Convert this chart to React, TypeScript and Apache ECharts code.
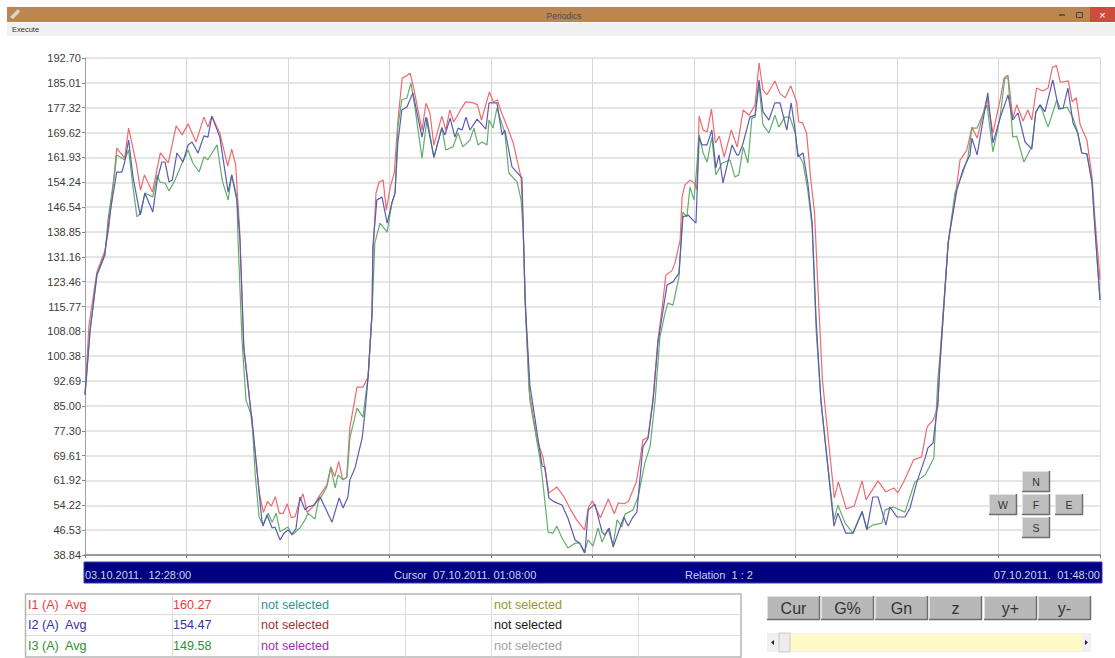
import React, { useEffect, useRef } from "react";
import * as echarts from "echarts";

const FONT = "'Liberation Sans', Arial, sans-serif";

const yTickLabels = ["38.84","46.53","54.22","61.92","69.61","77.30","85.00","92.69","100.38","108.08","115.77","123.46","131.16","138.85","146.54","154.24","161.93","169.62","177.32","185.01","192.70"];
const yMin = 38.84;
const yMax = 192.7;
const sampleCount = 256;
const xDivisions = 10;

const i1Samples = [0,1,3,5,6,7,8,10,11,13,14,15,17,19,21,23,24.5,26,28,30,31,32,34,36,37,38,39,40,41,42,43,44,45,46,47,48,49,50,51,52,53,54,55,56,57.5,59,61,62,63,64,65,66,
  66.8,68.6,70.1,71.4,72.4,72.6,73.4,74.2,75.2,
  76,77,78,79,80,81,82,83,85,86,87,88,90,91,92,93,95,96,98,99,100,102,103,104,105,107,108,110,110.5,111,112,114,115.5,117,119,121,122.5,124,126,127,128,130,132,133.5,134.5,136,137,139,140,
  140.7,141.5,142,143.3,144.5,145.5,146.5,148,148.8,150.1,150.6,151.3,152.6,
  153.6,154.3,154.9,155.9,156.9,158,159,160,161.2,163,164.5,166,167.5,169,170,171,172,174,175.3,176.6,178,179.5,180,181,182,183,184,185,186,187,187.5,189,190,192,194,196,197,200,202,204,205,206.5,
  209,211,212.4,213.9,215.1,215.6,217.7,219.4,
  220.7,222.4,223.7,225,227.5,229,230.8,231.8,232.8,234,235,236.6,237.8,238.8,240,241.6,242.9,244,245,246,248,249,250,251,252.7,254,254.7,256];
const i1Values = [88.4,110,126.4,133,140,152,164.8,161.7,171,159.6,151.8,156.5,151.2,163.3,160.2,171.7,168.9,172.3,166.7,174.4,171.3,174.7,169.5,159.2,164.5,159.6,139.5,103.8,93,80.6,69.8,57.9,52,55.4,54,56.9,51.7,51.7,54.7,50.4,50.7,55,57.8,52,53.8,56.9,60.6,66.2,63.1,67.8,62.2,62.9,
  78.2,90.8,90.8,93.9,113.8,131,150.9,154.3,154.9,
  145.6,152.8,157.1,174.4,186.5,187.1,188,182.8,170.4,178.7,175.6,165.7,174.7,170.4,176.6,172.9,177.2,179.1,178.8,178.2,173.5,182.2,179.1,179.7,176,169.8,166.4,155.5,141.6,117.8,89.9,74.5,69.2,58,59.9,56.5,52.8,49.7,46.6,53.7,55.6,50.4,56.2,51.6,55,54.7,55.3,61.2,68.3,
  74.4,75,75,87.8,105.4,114.7,125.5,126.8,129.2,136.3,149.7,153.4,154.9,
  154.1,152,174.7,170.4,169.8,176.9,166.4,168.5,162,170.4,165.1,176.6,175,178.2,191.2,182.8,181.3,185.6,181.6,180.4,184.1,179.1,172.9,172.6,169.5,155.8,144.7,117.8,93,80.6,74.5,56.5,61.5,53.1,54,61.8,55.9,61.8,58.4,59.6,58.1,61.5,
  68.3,69.2,78.5,80.6,84.7,97,135.4,148.7,
  161.1,164.2,171.3,167.9,180.3,169.5,179.7,186.5,187.4,174.1,178.2,173.2,176.6,173.5,183.4,182.5,183.4,189.8,190.4,185.2,185.6,179.1,180.4,172,167.3,155.8,143.4,124];

const i2Samples = [0,1.3,3,5,6.3,8,9.3,10,11,12.1,13.9,15.1,17.1,18.2,19.4,20.2,21.2,22,23.2,24.7,26,27,28.5,30,31,32,34,36.1,37,38.3,39.1,40.1,41.1,42.4,43.6,44.6,44.9,45.9,47.2,47.9,49.2,50.2,51.2,52.2,53.2,54.2,55.5,56.2,57.8,59.3,62.3,64.1,65.1,66.3,66.8,68.1,
  69.9,70.6,71.4,72.4,72.6,73.6,74.9,76.2,
  77.4,78.2,78.9,79.9,81.2,82.7,85,86,88,90,90.8,92.1,93.3,94.1,95.1,96.1,97.1,98.9,101.1,101.9,103.9,105.2,105.9,107.7,110.2,110.5,111,112.2,114.8,115.3,116,117,118.5,120.3,121.8,123.6,124.8,126.1,126.9,128.6,130.4,131.1,132.2,133.2,135.9,137,138.2,139.2,
  140.7,142,143.3,144.5,145.8,146.8,148.3,149.8,150.8,152.1,154.1,
  154.9,155.6,156.9,158.1,159.1,159.9,160.9,163.2,164.4,164.9,166,167.7,169,170,171,172.5,174,175.3,177,178.1,179.1,179.8,181.1,182.3,183.4,184.4,185.6,187.1,188.9,189.9,191.9,193.7,196,197.2,198.7,200,202,203,204.8,206.8,208.1,209.8,
  211.9,212.6,213.9,215.1,215.6,217.7,218.2,
  219.9,221.4,223.2,223.7,225,226.2,227.7,229,230.8,232.8,234,235.3,237.1,238.8,239.8,240.9,242.1,244.1,245.6,246.7,247.9,249.2,250.4,251.4,252.7,254,254.7,256];
const i2Values = [88.4,108.5,125.5,132,144.7,157.4,157.4,160.5,167.3,155.9,144.1,150.9,145,154.9,160.5,160.5,154.3,154.9,163.3,160.5,165.8,166.7,163.3,168.6,168.2,174.7,168.2,151.2,156.5,148.7,136.3,102.3,91.5,77.5,62,49.7,47.8,51.2,47.2,47.5,43.5,45.6,46.6,45.3,46.9,56.8,52.8,53.7,54.3,56.8,49,56.5,53.4,56.8,62.1,65.8,
  75,82.8,93.9,113.8,134.2,148.7,149.7,141.6,
  147.8,150.9,166.4,176.6,177.5,181.9,168.2,174.4,162.1,171,168.9,174.1,168.2,171,170.4,174.4,170.4,173.8,170.7,178.8,178.8,168.9,170.4,159,155.6,141.6,117.8,91.5,70.4,66.4,66.1,56.5,55.2,54.3,50.3,43.5,42.5,39.5,52.8,54.6,46,45,47.2,41.3,50.6,47.8,50.6,52.1,
  72.3,75,86.8,104.5,114.7,122.4,123.4,126.1,143.5,144.1,141.6,
  168.2,165.8,165.8,170.4,158.7,162.7,154,165.8,162.7,162.7,166.4,174.4,175,185.9,176,173.5,178.8,178.8,170.4,178.8,170.4,162.1,163.3,154,141.6,111.6,86.8,69.2,47.8,51.8,45.6,45.6,52.4,46.6,56.8,56.8,48.1,53.7,50.6,50.6,53.4,61.4,
  68.9,72,73.5,85.9,97.6,135.4,139.5,
  151.8,158,162.7,167.9,162.7,171.3,181.9,166.4,174.1,181.3,173.5,175.7,166.7,164.5,176,178.2,176,185.9,176.9,177.2,183.4,172.6,169.5,163.3,163,154,140.4,117.8];

const i3Samples = [0,1.3,3,5,5.8,7.6,8,10,11,12.1,13.1,14.1,15.1,17.1,18.2,18.9,20.2,21.2,22.7,24.5,26,27.2,28.8,30,31,33.3,34.6,36.1,37,38.3,38.6,39.6,40.6,42.1,42.9,43.9,44.9,46.2,47.2,48.2,49.2,49.9,51.2,52.2,54.2,55.5,56.2,58,58.8,61,62,63.1,63.8,65.1,66.1,
  66.8,68.6,70.1,71.4,72.4,73.1,74.4,76.2,
  77.4,78.2,78.9,79.9,81.2,82.2,83.2,85,86.3,88,90,91,92.8,94.1,95.3,97.1,98.1,99.1,100.1,101.4,101.9,102.9,103.9,105.9,106.9,109,110,110.5,111.2,112.2,114.8,115.5,116.8,118,119,120.3,121.8,123.6,124.8,125.9,126.9,128.1,129.4,130.4,131.9,133.2,134.2,135.4,136.2,138.2,139.5,141.2,
  142.5,143.8,145,146.3,147,148.3,149.8,150.8,151.8,152.6,
  153.6,154.3,154.9,155.9,156.9,158.1,159.1,160.7,162.7,163.9,164.9,166,167.2,168.2,169,170,171,172.5,174,175,176.5,177.8,179.1,179.8,181.1,182.3,183.4,184.4,185.6,187.1,188.9,189.9,191.7,193.7,196,197.2,198.7,201,201.8,203.8,206.8,209.3,211.9,
  214.1,215.1,215.6,217.7,
  219.4,221.4,222.7,223.7,225,227.5,229,230.8,232,232.8,234,235,236.8,238.8,239.8,240.9,242.9,245.1,246,247.7,249.2,250.2,251.4,252.7,254,254.7,256];
const i3Values = [88.4,108.5,125.5,131.4,142.6,158,162.7,161.2,164.2,152.8,143.5,144.7,150.9,149.7,156.5,154.3,154,151.5,154.9,160.2,164.2,160.2,157.4,162.1,161.2,165.8,154.9,148.7,156.5,149.7,136.3,105.4,86.8,81.6,64.2,50.6,48.1,51.8,49,51.8,46,46.6,47.5,45,47.2,49.7,51.8,50,55.2,59.9,65.8,59.6,63.6,62.1,63,
  75,84.3,81.5,93.9,113.8,135.4,141.6,138.8,
  147.8,150.9,171.3,179.7,180.3,185,177.5,161.7,174.1,161.7,171.3,164.2,165.2,169.5,165.2,167.3,171,165.8,166.7,165.8,173.5,171,177.2,169.5,157.1,154.3,148.7,139.5,111.6,86.8,68.2,61.1,45.9,45.6,47.8,44.1,41,42.5,42.5,39.5,43.5,41.6,47.2,42.9,46.9,41.9,49.7,47.5,51.5,52.8,56.8,67.3,
  72.3,86.8,106.3,113.8,116.8,116.2,124.9,145,143.5,152.8,
  148.7,159,168.9,163.3,160.5,168.2,156.5,160.2,161.1,155.9,156.5,165.2,160.2,174.1,174.4,184.3,172,169.5,175,171.3,174.4,174.4,169.5,163.3,160.2,151.8,140.4,108.5,86.8,69.2,49.7,54.3,48.7,45.6,52.1,46.9,48.1,48.7,52.8,53.7,52.1,61.4,63.6,
  68.9,93,100,135.4,
  150.9,157.1,162.1,171,171,178.2,163.6,174.4,186.5,186.5,168.2,168.5,160.5,165.2,175.7,178.2,171.3,179.7,176.9,177.5,174.1,170.4,163.3,163,154,140.4,117.8];

const legendNames = ["I1 (A)  Avg", "I2 (A)  Avg", "I3 (A)  Avg"];
const legendValues = ["160.27", "154.47", "149.58"];
const seriesColors = ["#ee6a70", "#5c5cae", "#62ae6c"];
const legendColors = ["#e83c3c", "#34349a", "#2f8f2f"];
const unselectedA = ["#2e9494", "#a53030", "#a030a8"];
const unselectedB = ["#98982e", "#151515", "#a2a2a2"];
const buttonLabels = ["Cur", "G%", "Gn", "z", "y+", "y-"];
const startLabel = "03.10.2011.  12:28:00";
const cursorLabel = "Cursor  07.10.2011. 01:08:00";
const relationLabel = "Relation  1 : 2";
const endLabel = "07.10.2011.  01:48:00";

const zip = (xs: number[], ys: number[]) => xs.map((x, i) => [x, ys[i]]);

function txt(x: number, y: number, text: string, fill: string, fontSize: number, align = "left") {
  return {
    type: "text", x, y, z: 10, silent: true,
    style: { text, fill, font: `${fontSize}px ${FONT}`, textAlign: align, textVerticalAlign: "middle" },
  };
}
function box(x: number, y: number, w: number, h: number, fill: string, stroke?: string, lw = 1) {
  return { type: "rect", z: 5, silent: true, shape: { x, y, width: w, height: h }, style: { fill, stroke: stroke ?? "none", lineWidth: lw } };
}
function seg(x1: number, y1: number, x2: number, y2: number, stroke: string, lw = 1) {
  return { type: "line", z: 6, silent: true, shape: { x1, y1, x2, y2 }, style: { stroke, lineWidth: lw } };
}
function raised(x: number, y: number, w: number, h: number, label: string, fs: number, fill = "#b8b8b8") {
  return [
    box(x, y, w, h, fill),
    seg(x, y + 0.5, x + w, y + 0.5, "#e2e2e2"),
    seg(x + 0.5, y, x + 0.5, y + h, "#e2e2e2"),
    seg(x, y + h - 0.5, x + w, y + h - 0.5, "#6e6e6e", 1.5),
    seg(x + w - 0.5, y, x + w - 0.5, y + h, "#6e6e6e", 1.5),
    txt(x + w / 2, y + h / 2, label, "#333", fs, "center"),
  ];
}

function buildChrome() {
  const out: any[] = [
    box(7, 7, 1108, 15, "#bb8650"),
    box(7, 23, 1108, 13, "#f0f0f0"),
    txt(564, 15.5, "Periodics", "#4a4a4a", 8.5, "center"),
    txt(12, 29, "Execute", "#333", 7.5),
    seg(1059, 15, 1065, 15, "#444", 1.5),
    { type: "rect", z: 6, silent: true, shape: { x: 1076.5, y: 12.5, width: 6, height: 5 }, style: { fill: "none", stroke: "#444" } },
    box(1090, 7, 25, 15, "#cf4b3d"),
    txt(1102.5, 14.5, "×", "#fff", 11, "center"),
    { type: "polygon", z: 6, silent: true, shape: { points: [[10, 17], [18, 9], [20, 12], [13, 19]] }, style: { fill: "#d9d6cc" } },

    box(84, 562, 1018, 21, "#000080", "#3a3ab0"),
    txt(85, 575, startLabel, "#c9d2ea", 11),
    txt(394, 575, cursorLabel, "#c9d2ea", 11),
    txt(685, 575, relationLabel, "#c9d2ea", 11),
    txt(1100, 575, endLabel, "#c9d2ea", 11, "right"),

    box(25.5, 594, 715.5, 63, "#fff", "#b5b5b5", 1.5),
  ];
  [614, 635].forEach((y) => out.push(seg(26, y + 0.5, 741, y + 0.5, "#dddddd")));
  [172, 258, 405, 491, 638].forEach((x) => out.push(seg(x + 0.5, 595, x + 0.5, 657, "#dddddd")));
  const rowY = [604.5, 625, 646];
  rowY.forEach((y, r) => {
    out.push(txt(28, y, legendNames[r], legendColors[r], 12.6));
    out.push(txt(173, y, legendValues[r], legendColors[r], 12.6));
    out.push(txt(261, y, "not selected", unselectedA[r], 12.6));
    out.push(txt(494, y, "not selected", unselectedB[r], 12.6));
  });
  const btnX = [767, 821, 875, 929, 984, 1038];
  buttonLabels.forEach((label, i) => out.push(...raised(btnX[i], 596, 53, 24, label, 16)));
  out.push(box(767, 633, 324, 19, "#f0f0f0"));
  out.push(box(790, 634, 292, 17, "#fff9c6"));
  out.push(box(779, 633, 11, 19, "#ececec", "#c8c8c8"));
  out.push({ type: "polygon", z: 6, silent: true, shape: { points: [[774, 640], [771, 642.5], [774, 645]] }, style: { fill: "#222" } });
  out.push({ type: "polygon", z: 6, silent: true, shape: { points: [[1085, 640], [1088, 642.5], [1085, 645]] }, style: { fill: "#222" } });
  out.push(...raised(1022, 471, 28, 21, "N", 10.5, "#bebebe"));
  out.push(...raised(989, 494, 28, 21, "W", 10.5, "#bebebe"));
  out.push(...raised(1022, 494, 28, 21, "F", 10.5, "#bebebe"));
  out.push(...raised(1055, 494, 28, 21, "E", 10.5, "#bebebe"));
  out.push(...raised(1022, 517, 28, 21, "S", 10.5, "#bebebe"));
  return out;
}

export default function App() {
  const ref = useRef<HTMLDivElement>(null);
  useEffect(() => {
    document.body.style.margin = "0";
    const chart = echarts.init(ref.current!, undefined, { renderer: "svg" });
    const line = (name: string, data: number[][], color: string) => ({
      name, type: "line", data, showSymbol: false, symbol: "none", smooth: false,
      yAxisIndex: 0, lineStyle: { width: 1.2, color }, itemStyle: { color }, z: 3,
    });
    chart.setOption({
      animation: false,
      backgroundColor: "#ffffff",
      grid: { left: 85, top: 58, width: 1015, height: 497, containLabel: false },
      xAxis: {
        type: "value", min: 0, max: sampleCount, interval: sampleCount / xDivisions,
        axisLine: { show: true, onZero: false, lineStyle: { color: "#9a9a9a", width: 2 } },
        axisTick: { show: true, length: 3, lineStyle: { color: "#777" } },
        axisLabel: { show: false },
        splitLine: { show: true, lineStyle: { color: "#d6d6d6", width: 1 } },
      },
      yAxis: [
        { type: "value", min: yMin, max: yMax, show: false, splitLine: { show: false } },
        {
          type: "category", data: yTickLabels, boundaryGap: false, position: "left",
          axisLine: { show: true, onZero: false, lineStyle: { color: "#a0a0a0", width: 1 } },
          axisTick: { show: true, length: 3, interval: 0, lineStyle: { color: "#888" } },
          axisLabel: { show: true, interval: 0, margin: 4, color: "#3c3c3c", fontSize: 11, fontFamily: FONT },
          splitLine: { show: true, interval: 0, lineStyle: { color: "#dcdcdc", width: 1.5 } },
        },
      ],
      series: [
        line("I1 (A) Avg", zip(i1Samples, i1Values), seriesColors[0]),
        line("I3 (A) Avg", zip(i3Samples, i3Values), seriesColors[2]),
        line("I2 (A) Avg", zip(i2Samples, i2Values), seriesColors[1]),
      ],
      graphic: { elements: buildChrome() },
    });
    return () => chart.dispose();
  }, []);
  return <div ref={ref} style={{ position: "absolute", left: 0, top: 0, width: 1115, height: 658 }} />;
}
